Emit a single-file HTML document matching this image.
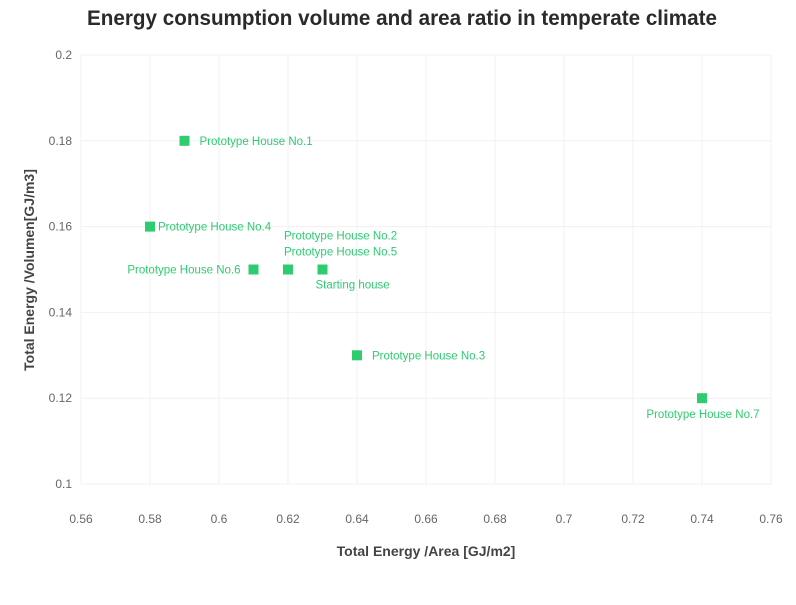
<!DOCTYPE html>
<html><head><meta charset="utf-8"><style>
body{margin:0;background:#fff}
svg{font-family:"Liberation Sans",sans-serif}
</style></head><body>
<svg id="chart" width="796" height="600" xmlns="http://www.w3.org/2000/svg">
<text x="87" y="25" font-size="21" font-weight="bold" fill="#2a2a2a" textLength="630" lengthAdjust="spacingAndGlyphs">Energy consumption volume and area ratio in temperate climate</text>
<g id="grid"></g>
<g id="ticks"></g>
<g id="points"></g>
<text x="426" y="556" font-size="14" font-weight="bold" fill="#444" text-anchor="middle">Total Energy /Area [GJ/m2]</text>
<text transform="translate(34,270) rotate(-90)" font-size="14" font-weight="bold" fill="#444" text-anchor="middle">Total Energy /Volumen[GJ/m3]</text>
</svg>
<script>
const xTicks=[0.56,0.58,0.6,0.62,0.64,0.66,0.68,0.7,0.72,0.74,0.76];
const xTickLabels=["0.56","0.58","0.6","0.62","0.64","0.66","0.68","0.7","0.72","0.74","0.76"];
const yTicks=[0.1,0.12,0.14,0.16,0.18,0.2];
const yTickLabels=["0.1","0.12","0.14","0.16","0.18","0.2"];
const names=["Prototype House No.1","Prototype House No.4","Prototype House No.6","Prototype House No.2","Prototype House No.5","Starting house","Prototype House No.3","Prototype House No.7"];
const xVals=[0.59,0.58,0.61,0.62,0.62,0.63,0.64,0.74];
const yVals=[0.18,0.16,0.15,0.15,0.15,0.15,0.13,0.12];
const labelPos=["right","right2","left","top2","top1","bottomright","right","bottom"];
const X=v=>81+(v-0.56)/0.2*690;
const Y=v=>484-(v-0.1)/0.1*429;
const NS="http://www.w3.org/2000/svg";
function mk(tag,attrs,parent){const e=document.createElementNS(NS,tag);for(const k in attrs)e.setAttribute(k,attrs[k]);parent.appendChild(e);return e;}
const grid=document.getElementById('grid'),ticks=document.getElementById('ticks'),pts=document.getElementById('points');
xTicks.forEach((t,i)=>{
  const l=mk('line',{x1:X(t),x2:X(t),y1:55,y2:484,stroke:'#f0f0f0'},grid);
  
  
  const tx=mk('text',{x:X(t),y:523,'font-size':12,fill:'#666','text-anchor':'middle'},ticks);
  tx.textContent=xTickLabels[i];
  
  
});
yTicks.forEach((t,i)=>{
  const l=mk('line',{x1:81,x2:771,y1:Y(t),y2:Y(t),stroke:'#f0f0f0'},grid);
  
  
  const tx=mk('text',{x:72,y:Y(t)+4,'font-size':12,fill:'#666','text-anchor':'end'},ticks);
  tx.textContent=yTickLabels[i];
  
  
});
xVals.forEach((xv,i)=>{
  const cx=X(xv),cy=Y(yVals[i]);
  const r=mk('rect',{x:cx-5,y:cy-5,width:10,height:10,fill:'#2ecc71'},pts);
  
  
  let ax=cx+15,ay=cy+4,anc='start';
  const p=labelPos[i];
  if(p==='right2'){ax=cx+8;}
  else if(p==='left'){ax=cx-13;anc='end';}
  else if(p==='top1'){ax=cx-4;ay=cy-14;}
  else if(p==='top2'){ax=cx-4;ay=cy-30;}
  else if(p==='bottomright'){ax=cx-7;ay=cy+19;}
  else if(p==='bottom'){anc='middle';ax=cx+1;ay=cy+20;}
  const t=mk('text',{x:ax,y:ay,'font-size':11.5,fill:'#2ecc71','text-anchor':anc},pts);
  t.textContent=names[i];
  
  
});
</script>
</body></html>
